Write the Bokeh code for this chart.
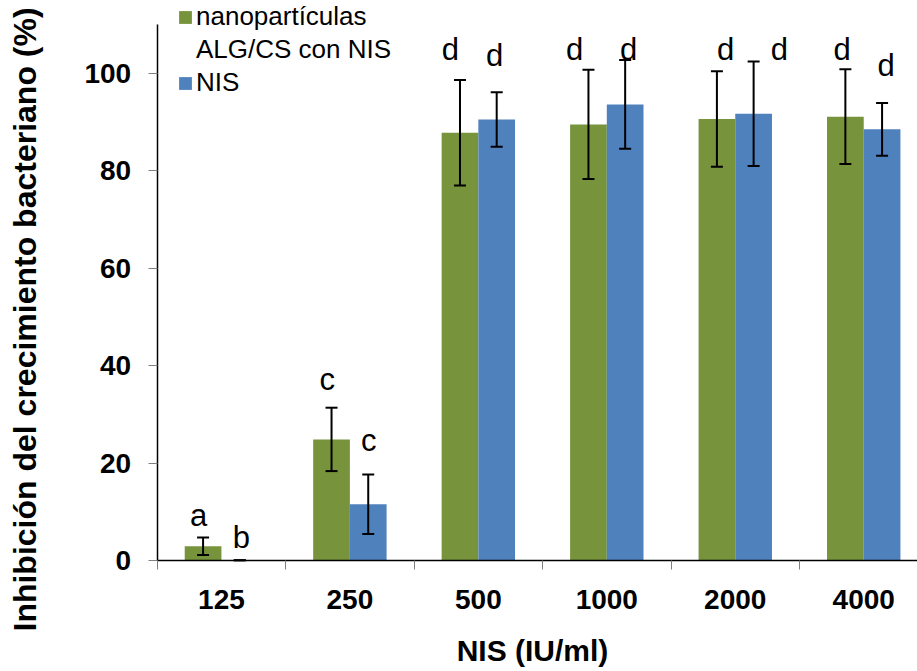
import math
from bokeh.plotting import figure
from bokeh.models import (ColumnDataSource, FixedTicker, Whisker, TeeHead, Label,
                          Legend, LegendItem, Range1d)
from bokeh.core.properties import value
from bokeh.embed import file_html
from bokeh.resources import INLINE

# NIS concentration (IU/ml) categories
categories = ["125", "250", "500", "1000", "2000", "4000"]

# Inhibition of bacterial growth (%), mean and error for each formulation
nano_mean = [3.0, 24.9, 87.8, 89.5, 90.6, 91.1]
nano_err = [1.8, 6.5, 10.8, 11.2, 9.8, 9.7]
nis_mean = [0.1, 11.6, 90.5, 93.6, 91.7, 88.5]
nis_err = [0.0, 6.1, 5.6, 9.1, 10.7, 5.4]

# significance letters and where they sit (x in category units, y at baseline in %)
nano_letters = ["a", "c", "d", "d", "d", "d"]
nis_letters = ["b", "c", "d", "d", "d", "d"]
nano_letter_x = [-0.178, 0.823, 1.783, 2.749, 3.924, 4.832]
nano_letter_y = [9.3, 37.2, 104.8, 104.8, 104.9, 104.9]
nis_letter_x = [0.156, 1.147, 2.126, 3.169, 4.344, 5.175]
nis_letter_y = [4.84, 24.7, 103.6, 104.8, 104.9, 101.6]

y_ticks = [0, 20, 40, 60, 80, 100]
Y_AXIS_MAX = 110

GREEN = "#77933C"
BLUE = "#4F81BD"
FONT = "Liberation Sans"
BAR_W = 1 / 3.5

idx = list(range(len(categories)))
x_lo = idx[0] - 0.5

# The data frame spans the whole canvas; both axes are pinned at fixed data
# locations so the titles and legend can sit in the margins as annotations.
p = figure(width=917, height=671, output_backend="svg", toolbar_location=None,
           x_range=Range1d(-1.7198, 5.4186), y_range=Range1d(-22.705, 114.92),
           min_border=0)
p.outline_line_color = None
p.background_fill_color = "white"
p.border_fill_color = "white"
p.xgrid.visible = False
p.ygrid.visible = False


def series_source(means, errs, shift):
    xs = [i + shift for i in idx]
    return ColumnDataSource(dict(
        x=xs, top=means,
        upper=[m + e for m, e in zip(means, errs)],
        lower=[m - e for m, e in zip(means, errs)],
    ))


src_nano = series_source(nano_mean, nano_err, -BAR_W / 2)
src_nis = series_source(nis_mean, nis_err, BAR_W / 2)

r_nano = p.vbar(x="x", top="top", bottom=0, width=BAR_W, source=src_nano,
                fill_color=GREEN, line_color=None)
r_nis = p.vbar(x="x", top="top", bottom=0, width=BAR_W, source=src_nis,
               fill_color=BLUE, line_color=None)

for src in (src_nano, src_nis):
    w = Whisker(base="x", upper="upper", lower="lower", source=src,
                line_color="black", line_width=2, level="annotation",
                upper_head=TeeHead(size=12, line_color="black", line_width=2),
                lower_head=TeeHead(size=12, line_color="black", line_width=2))
    p.add_layout(w)

# significance letters
for xs, ys, txt in ((nano_letter_x, nano_letter_y, nano_letters),
                    (nis_letter_x, nis_letter_y, nis_letters)):
    p.text(x=xs, y=ys, text=txt, text_font=value(FONT), text_font_size="31px",
           text_align="center", text_baseline="alphabetic", text_color="black")

# y axis, pinned at the left edge of the first category
yax = p.yaxis[0]
yax.fixed_location = x_lo
yax.ticker = FixedTicker(ticks=y_ticks, minor_ticks=[])
yax.bounds = (0, Y_AXIS_MAX)
yax.axis_line_color = "black"
yax.axis_line_width = 1.5
yax.major_tick_in = 0
yax.major_tick_out = 9
yax.major_tick_line_color = "#7f7f7f"
yax.minor_tick_line_color = None
yax.major_label_text_font = FONT
yax.major_label_text_font_style = "bold"
yax.major_label_text_font_size = "28px"
yax.major_label_text_color = "black"
yax.major_label_standoff = 17

# x axis at zero: labels at category centres, tick marks at category boundaries
xax = p.xaxis[0]
xax.fixed_location = 0
xax.ticker = FixedTicker(ticks=idx, minor_ticks=[i - 0.5 for i in range(len(categories) + 1)])
xax.bounds = (x_lo, 5.4186)
xax.major_label_overrides = {i: c for i, c in zip(idx, categories)}
xax.axis_line_color = "black"
xax.axis_line_width = 1.5
xax.major_tick_in = 0
xax.major_tick_out = 0
xax.minor_tick_in = 0
xax.minor_tick_out = 9
xax.minor_tick_line_color = "#7f7f7f"
xax.major_label_text_font = FONT
xax.major_label_text_font_style = "bold"
xax.major_label_text_font_size = "28px"
xax.major_label_text_color = "black"
xax.major_label_standoff = 20

# axis titles
p.add_layout(Label(x=-1.5307, y=49.5, text="Inhibición del crecimiento bacteriano (%)",
                   angle=math.pi / 2, text_align="center", text_baseline="alphabetic",
                   text_font=FONT, text_font_style="bold", text_font_size="32px",
                   text_color="black"))
p.add_layout(Label(x=2.4216, y=-18.4, text="NIS (IU/ml)",
                   text_align="center", text_baseline="alphabetic",
                   text_font=FONT, text_font_style="bold", text_font_size="30px",
                   text_color="black"))

# legend
dummy = p.vbar(x=[0], top=[0], width=0.1, fill_alpha=0, line_alpha=0)
legend = Legend(items=[
    LegendItem(label="nanopartículas", renderers=[r_nano]),
    LegendItem(label="ALG/CS con NIS", renderers=[dummy]),
    LegendItem(label="NIS", renderers=[r_nis]),
], location=(177, 573), orientation="vertical")
legend.border_line_color = None
legend.background_fill_alpha = 0
legend.padding = 0
legend.margin = 0
legend.spacing = 2
legend.glyph_width = 16
legend.glyph_height = 16
legend.label_height = 30
legend.label_standoff = 3
legend.label_text_font = FONT
legend.label_text_font_size = "26px"
legend.label_text_color = "black"
p.add_layout(legend, "center")

open("out.html", "w").write(file_html(p, INLINE))
